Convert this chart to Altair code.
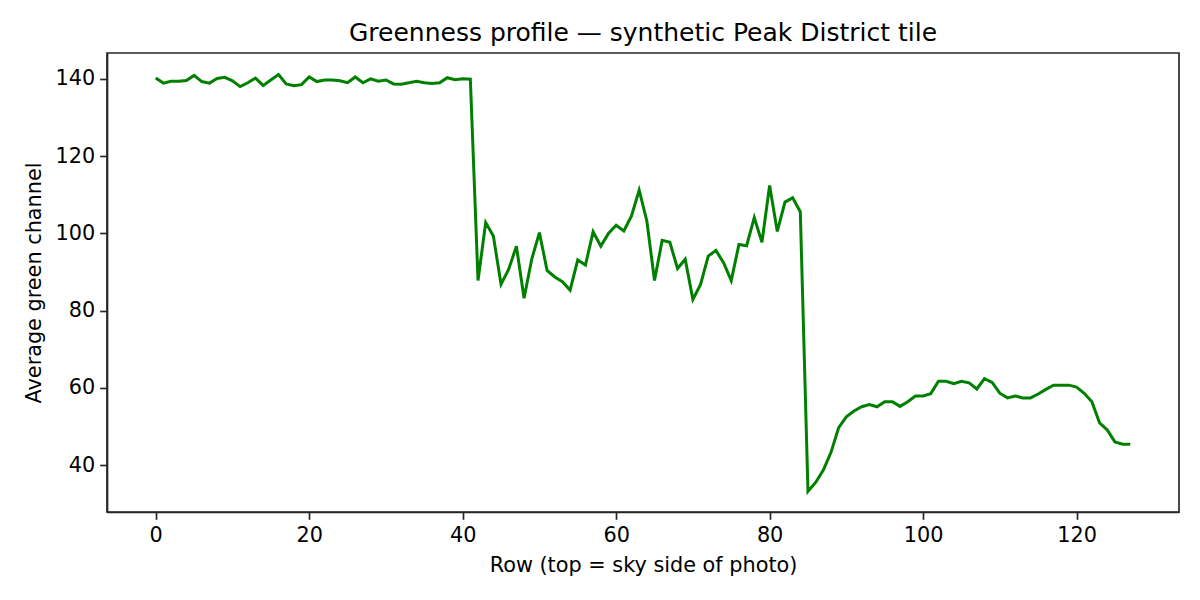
import altair as alt
import pandas as pd

rows = list(range(128))
green = [
    140.2, 138.9, 139.4, 139.4, 139.6, 140.9, 139.3, 138.9, 140.1, 140.4,
    139.5, 138.0, 139.0, 140.2, 138.3, 139.7, 141.1, 138.7, 138.2, 138.5,
    140.5, 139.3, 139.7, 139.7, 139.5, 139.0, 140.5, 139.0, 140.0, 139.4,
    139.7, 138.7, 138.6, 139.0, 139.4, 139.0, 138.8, 139.0, 140.3, 139.8,
    140.0, 139.9, 87.8, 102.8, 99.3, 86.8, 90.7, 96.7, 83.2, 93.3,
    100.2, 90.4, 88.7, 87.5, 85.3, 93.1, 91.8, 100.4, 96.7, 100.0,
    102.1, 100.6, 104.5, 111.2, 103.2, 87.8, 98.2, 97.7, 90.9, 93.3,
    82.9, 86.8, 94.1, 95.6, 92.4, 87.8, 97.1, 96.8, 104.1, 97.7,
    112.4, 100.5, 108.1, 109.2, 105.6, 33.2, 35.5, 38.7, 43.3, 49.7,
    52.5, 54.0, 55.1, 55.7, 55.1, 56.4, 56.4, 55.2, 56.4, 57.9,
    57.9, 58.5, 61.7, 61.7, 61.1, 61.7, 61.3, 59.7, 62.4, 61.4,
    58.6, 57.4, 57.9, 57.4, 57.4, 58.4, 59.6, 60.7, 60.7, 60.7,
    60.2, 58.6, 56.4, 50.9, 49.1, 46.0, 45.4, 45.4,
]
x_ticks = [0, 20, 40, 60, 80, 100, 120]
y_ticks = [40, 60, 80, 100, 120, 140]

df = pd.DataFrame({"row": rows, "green": green})

FONT = "DejaVu Sans"

chart = (
    alt.Chart(df)
    .mark_line(color="#008000", strokeWidth=3)
    .encode(
        x=alt.X(
            "row:Q",
            scale=alt.Scale(domain=[-6.35, 133.35], nice=False, zero=False),
            axis=alt.Axis(
                values=x_ticks,
                title="Row (top = sky side of photo)",
                grid=False,
                tickSize=7.3,
                tickWidth=1.67,
                labelPadding=6.5,
                titlePadding=9.5,
                format="d",
            ),
        ),
        y=alt.Y(
            "green:Q",
            scale=alt.Scale(domain=[27.85, 146.7], nice=False, zero=False),
            axis=alt.Axis(
                values=y_ticks,
                title="Average green channel",
                grid=False,
                tickSize=7.3,
                tickWidth=1.67,
                labelPadding=5,
                titlePadding=11,
                format="d",
            ),
        ),
    )
    .properties(
        width=1072,
        height=459,
        title=alt.TitleParams(
            "Greenness profile — synthetic Peak District tile",
            font=FONT,
            fontSize=25,
            fontWeight="normal",
            color="#000000",
            anchor="middle",
            offset=7,
        ),
        autosize=alt.AutoSizeParams(type="none"),
        padding={"left": 99, "top": 45, "right": 13, "bottom": 80},
    )
    .configure_view(stroke="#262626", strokeWidth=1.67)
    .configure_axis(
        domainColor="#262626",
        domainWidth=1.67,
        tickColor="#262626",
        labelFont=FONT,
        labelFontSize=20.8,
        labelColor="#000000",
        titleFont=FONT,
        titleFontSize=20.8,
        titleFontWeight="normal",
        titleColor="#000000",
    )
)

chart.save("out.html", embed_options={"renderer": "svg", "actions": False})
